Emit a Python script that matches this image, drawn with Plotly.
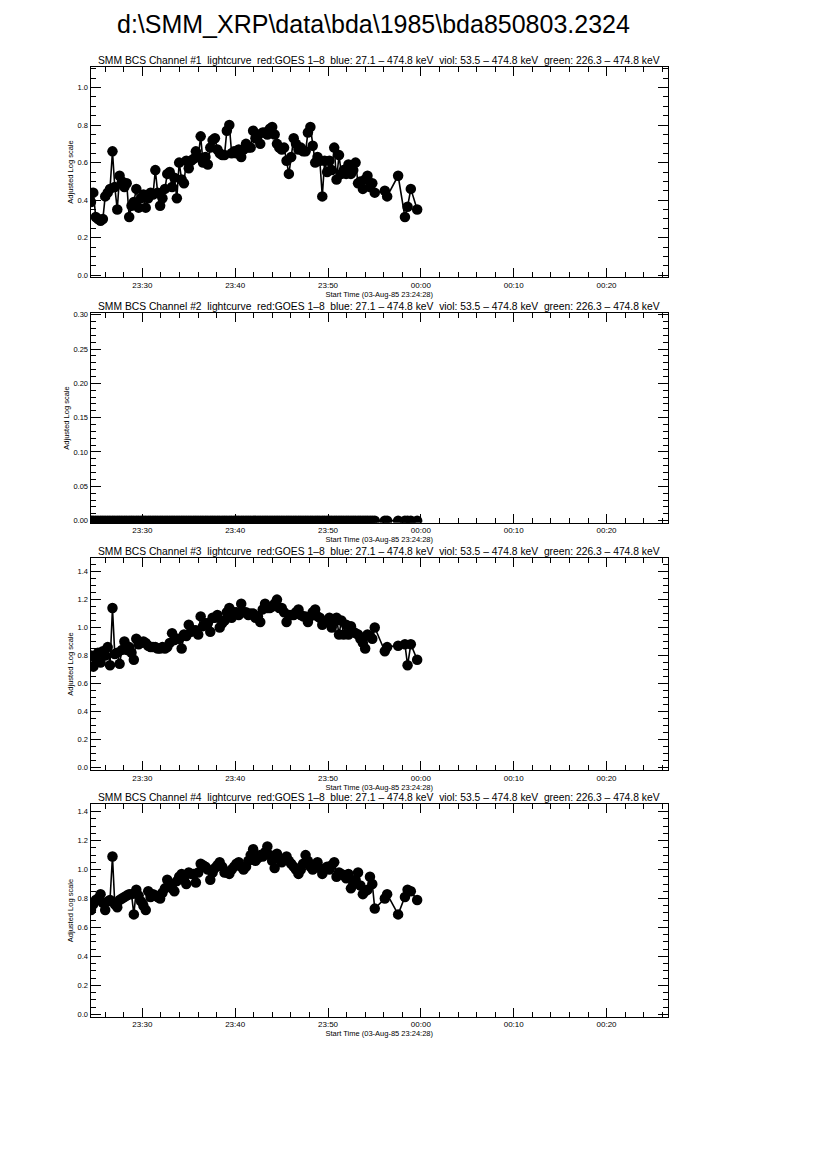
import pandas as pd
import plotly.graph_objects as go

TITLE = "d:\\SMM_XRP\\data\\bda\\1985\\bda850803.2324"
START = "1985-08-03 23:24:28"
X_RANGE = ["1985-08-03 23:24:25", "1985-08-04 00:26:37"]

# seconds after start time
T_SEC = [0, 15, 31, 46, 62, 77, 92, 108, 123, 139,
         154, 170, 185, 200, 216, 231, 247, 262, 277, 293,
         308, 324, 339, 354, 370, 385, 401, 416, 431, 447,
         462, 478, 493, 509, 524, 539, 555, 570, 586, 601,
         616, 632, 647, 663, 678, 693, 709, 724, 740, 755,
         771, 786, 801, 817, 832, 848, 863, 878, 894, 909,
         925, 940, 955, 971, 986, 1002, 1017, 1032, 1048, 1063,
         1079, 1094, 1110, 1125, 1140, 1156, 1171, 1187, 1202, 1217,
         1233, 1248, 1264, 1279, 1294, 1310, 1325, 1341, 1356, 1371,
         1387, 1402, 1418, 1433, 1449, 1464, 1479, 1495, 1510, 1526,
         1541, 1556, 1572, 1587, 1603, 1618, 1633, 1649, 1664, 1680,
         1695, 1710, 1726, 1741, 1757, 1772, 1787, 1803, 1818, 1834,
         1899, 1914, 1985, 2029, 2046, 2067, 2108]

CH1 = [0.39, 0.44, 0.31, 0.30, 0.29, 0.30, 0.42, 0.44, 0.46, 0.66,
       0.47, 0.35, 0.53, 0.50, 0.47, 0.49, 0.31, 0.37, 0.39, 0.46,
       0.36, 0.41, 0.43, 0.36, 0.41, 0.44, 0.43, 0.56, 0.44, 0.37,
       0.41, 0.46, 0.54, 0.55, 0.47, 0.52, 0.41, 0.60, 0.51, 0.49,
       0.61, 0.57, 0.61, 0.62, 0.66, 0.63, 0.74, 0.60, 0.63, 0.59,
       0.68, 0.72, 0.73, 0.67, 0.65, 0.64, 0.64, 0.77, 0.80, 0.65,
       0.66, 0.65, 0.67, 0.63, 0.67, 0.70, 0.68, 0.68, 0.77, 0.73,
       0.75, 0.70, 0.76, 0.76, 0.75, 0.78, 0.79, 0.75, 0.70, 0.68,
       0.67, 0.68, 0.61, 0.54, 0.63, 0.73, 0.70, 0.67, 0.68, 0.66,
       0.66, 0.76, 0.79, 0.69, 0.60, 0.63, 0.61, 0.42, 0.61, 0.55,
       0.61, 0.56, 0.68, 0.51, 0.64, 0.54, 0.56, 0.54, 0.59, 0.54,
       0.56, 0.60, 0.49, 0.50, 0.46, 0.51, 0.53, 0.47, 0.49, 0.44,
       0.45, 0.42, 0.53, 0.31, 0.365, 0.46, 0.35]

CH2 = [0.0, 0.0, 0.0, 0.0, 0.0, 0.0, 0.0, 0.0, 0.0, 0.0,
       0.0, 0.0, 0.0, 0.0, 0.0, 0.0, 0.0, 0.0, 0.0, 0.0,
       0.0, 0.0, 0.0, 0.0, 0.0, 0.0, 0.0, 0.0, 0.0, 0.0,
       0.0, 0.0, 0.0, 0.0, 0.0, 0.0, 0.0, 0.0, 0.0, 0.0,
       0.0, 0.0, 0.0, 0.0, 0.0, 0.0, 0.0, 0.0, 0.0, 0.0,
       0.0, 0.0, 0.0, 0.0, 0.0, 0.0, 0.0, 0.0, 0.0, 0.0,
       0.0, 0.0, 0.0, 0.0, 0.0, 0.0, 0.0, 0.0, 0.0, 0.0,
       0.0, 0.0, 0.0, 0.0, 0.0, 0.0, 0.0, 0.0, 0.0, 0.0,
       0.0, 0.0, 0.0, 0.0, 0.0, 0.0, 0.0, 0.0, 0.0, 0.0,
       0.0, 0.0, 0.0, 0.0, 0.0, 0.0, 0.0, 0.0, 0.0, 0.0,
       0.0, 0.0, 0.0, 0.0, 0.0, 0.0, 0.0, 0.0, 0.0, 0.0,
       0.0, 0.0, 0.0, 0.0, 0.0, 0.0, 0.0, 0.0, 0.0, 0.0,
       0.0, 0.0, 0.0, 0.0, 0.0, 0.0, 0.0]

CH3 = [0.80, 0.72, 0.78, 0.82, 0.75, 0.83, 0.80, 0.86, 0.73, 1.14,
       0.81, 0.82, 0.74, 0.84, 0.90, 0.84, 0.86, 0.82, 0.77, 0.92,
       0.88, 0.89, 0.90, 0.89, 0.87, 0.86, 0.86, 0.86, 0.85, 0.85,
       0.86, 0.85, 0.86, 0.89, 0.96, 0.91, 0.92, 0.92, 0.85, 0.95,
       0.94, 1.02, 0.97, 0.98, 0.98, 0.95, 1.08, 1.01, 1.03, 1.03,
       0.97, 1.07, 1.07, 1.09, 1.00, 1.03, 1.05, 1.11, 1.14, 1.07,
       1.11, 1.11, 1.09, 1.17, 1.11, 1.11, 1.09, 1.10, 1.10, 1.07,
       1.08, 1.04, 1.13, 1.17, 1.14, 1.14, 1.15, 1.17, 1.20, 1.14,
       1.14, 1.11, 1.04, 1.09, 1.09, 1.09, 1.11, 1.13, 1.09, 1.08,
       1.08, 1.04, 1.08, 1.11, 1.13, 1.08, 1.07, 1.02, 1.04, 1.05,
       1.07, 1.00, 1.04, 1.07, 0.95, 1.05, 0.95, 1.02, 0.95, 1.01,
       0.97, 0.96, 0.95, 0.92, 0.89, 0.85, 0.95, 0.94, 0.92, 1.00,
       0.83, 0.86, 0.87, 0.88, 0.73, 0.88, 0.77]

CH4 = [0.72, 0.76, 0.79, 0.80, 0.83, 0.77, 0.72, 0.78, 0.79, 1.09,
       0.76, 0.74, 0.79, 0.80, 0.81, 0.82, 0.83, 0.83, 0.69, 0.86,
       0.82, 0.78, 0.75, 0.72, 0.85, 0.81, 0.83, 0.82, 0.81, 0.80,
       0.84, 0.87, 0.93, 0.89, 0.87, 0.85, 0.92, 0.95, 0.97, 0.93,
       0.90, 0.98, 0.97, 0.97, 0.91, 0.98, 1.04, 1.03, 1.02, 1.00,
       0.93, 0.98, 1.01, 1.03, 1.05, 1.02, 0.98, 0.98, 0.97, 1.00,
       1.02, 1.04, 1.05, 1.02, 1.00, 1.02, 1.06, 1.10, 1.14, 1.06,
       1.08, 1.10, 1.09, 1.12, 1.16, 1.10, 1.06, 1.01, 1.11, 1.08,
       1.05, 1.07, 1.09, 1.06, 1.04, 1.02, 1.00, 0.97, 1.00, 1.04,
       1.10, 1.06, 1.02, 1.00, 1.03, 1.05, 1.01, 0.97, 1.00, 1.02,
       1.00, 1.03, 1.05, 0.95, 0.98, 0.97, 0.96, 0.94, 0.97, 0.87,
       0.90, 0.93, 0.98, 0.89, 0.83, 0.85, 0.86, 0.95, 0.90, 0.73,
       0.80, 0.83, 0.69, 0.81, 0.86, 0.85, 0.79]

CHANNELS = [CH1, CH2, CH3, CH4]
CH_NAMES = ["#1", "#2", "#3", "#4"]
Y_RANGES = [[-0.011, 1.111], [-0.003, 0.302], [-0.02, 1.498], [-0.017, 1.451]]
Y_DTICK = [0.2, 0.05, 0.2, 0.2]
Y_MINOR = [0.05, 0.01, 0.05, 0.05]
Y_FMT = [".1f", ".2f", ".1f", ".1f"]

SUBTITLE = ("SMM BCS Channel {}  lightcurve  red:GOES 1\u20138  blue: 27.1 \u2013 474.8 keV  "
            "viol: 53.5 \u2013 474.8 keV  green: 226.3 \u2013 474.8 keV")
XTITLE = "Start Time (03-Aug-85 23:24:28)"
YTITLE = "Adjusted Log scale"

# the page body has an 8px margin; figure coordinates are page coordinates minus 8
OFF = 8
W, H = 814, 1155
X_DOM = [(90.5 - OFF) / W, (668 - OFF) / W]
PANEL_PX = [(66.7, 277.3), (313.3, 522.7), (558.0, 770.0), (804.3, 1016.7)]

FONT = "Liberation Sans, Arial, Helvetica, sans-serif"

times = pd.Timestamp(START) + pd.to_timedelta(T_SEC, unit="s")

fig = go.Figure()
annotations = []
for k, vals in enumerate(CHANNELS):
    idx = "" if k == 0 else str(k + 1)
    fig.add_trace(go.Scatter(
        x=times, y=vals, mode="lines+markers",
        line=dict(color="black", width=1.6),
        marker=dict(color="black", size=10.5, line=dict(width=0)),
        xaxis="x" + idx, yaxis="y" + idx, showlegend=False,
    ))
    top, bot = PANEL_PX[k]
    dom = [1 - (bot - OFF) / H, 1 - (top - OFF) / H]
    axis_common = dict(showline=True, linecolor="black", linewidth=1, mirror="ticks",
                       ticks="inside", tickcolor="black", showgrid=False, zeroline=False,
                       automargin=False)
    fig.layout["xaxis" + idx] = dict(
        axis_common, domain=X_DOM, anchor="y" + idx, type="date", range=X_RANGE,
        tick0="1985-08-03 23:30:00", dtick=600000, tickformat="%H:%M", ticklen=9,
        tickfont=dict(family=FONT, size=8, color="black"),
        minor=dict(ticks="inside", dtick=120000, tick0="1985-08-03 23:30:00",
                   ticklen=5, tickcolor="black", showgrid=False),
        title=dict(text=XTITLE, font=dict(family=FONT, size=7.5, color="black"), standoff=0),
    )
    fig.layout["yaxis" + idx] = dict(
        axis_common, domain=dom, anchor="x" + idx, range=Y_RANGES[k],
        tick0=0, dtick=Y_DTICK[k], tickformat=Y_FMT[k], ticklen=10,
        tickfont=dict(family=FONT, size=7.5, color="black"),
        minor=dict(ticks="inside", dtick=Y_MINOR[k], tick0=0, ticklen=5,
                   tickcolor="black", showgrid=False),
        title=dict(text=YTITLE, font=dict(family=FONT, size=7.5, color="black"), standoff=2),
    )
    annotations.append(dict(
        text=SUBTITLE.format(CH_NAMES[k]), xref="paper", yref="paper",
        x=(X_DOM[0] + X_DOM[1]) / 2, y=dom[1], yshift=-1, xanchor="center", yanchor="bottom",
        showarrow=False, font=dict(family=FONT, size=10.3, color="black"),
    ))

annotations.append(dict(
    text=TITLE, xref="paper", yref="paper", x=(373 - OFF) / W, y=1,
    xanchor="center", yanchor="top", showarrow=False,
    font=dict(family=FONT, size=25, color="black"),
))

fig.update_layout(
    width=W, height=H, margin=dict(l=0, r=0, t=0, b=0),
    paper_bgcolor="white", plot_bgcolor="white",
    annotations=annotations, showlegend=False,
)

fig.write_html("out.html")
